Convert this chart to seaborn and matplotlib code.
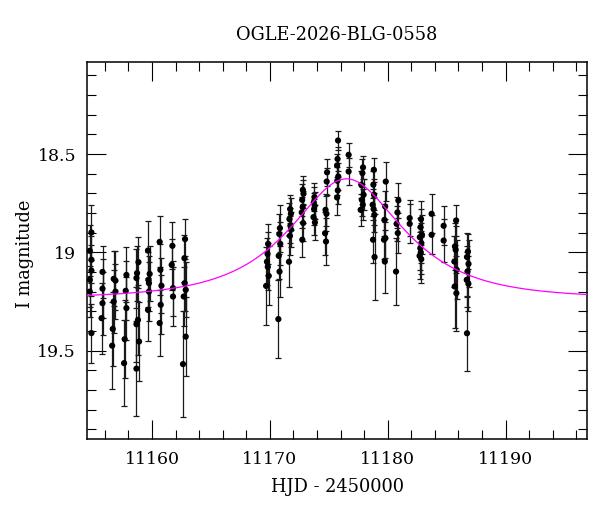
import matplotlib
matplotlib.use("Agg")
import matplotlib.pyplot as plt
import numpy as np
import pandas as pd
import seaborn as sns
from matplotlib.ticker import MultipleLocator, FormatStrFormatter

TITLE = "OGLE-2026-BLG-0558"

# photometry, grouped by night (HJD - 2450000, I mag, error)
hjd = [
    11154.86, 11154.72, 11154.86, 11154.86, 11154.72, 11154.72, 11154.86,
    11155.80, 11155.80, 11155.80, 11155.72,
    11156.75, 11156.90, 11156.90, 11156.75, 11156.67, 11156.62,
    11157.83, 11157.77, 11157.83, 11157.68, 11157.63,
    11158.85, 11158.73, 11158.68, 11158.81, 11158.68, 11158.90, 11158.68,
    11159.66, 11159.80, 11159.74, 11159.74, 11159.66, 11159.70,
    11160.65, 11160.71, 11160.80, 11160.74, 11160.65,
    11161.73, 11161.67, 11161.78, 11161.78,
    11162.80, 11162.75, 11162.77, 11162.86, 11162.69, 11162.86, 11162.63,
    11169.85, 11169.80, 11169.75, 11169.82, 11169.90, 11169.68,
    11170.85, 11170.80, 11170.88, 11170.75, 11170.82, 11170.72,
    11171.72, 11171.78, 11171.66, 11171.74, 11171.80, 11171.70, 11171.62,
    11172.80, 11172.85, 11172.74, 11172.78, 11172.70, 11172.82, 11172.75,
    11173.78, 11173.72, 11173.80, 11173.75, 11173.70, 11173.82,
    11174.85, 11174.82, 11174.72, 11174.80, 11174.68, 11174.76,
    11175.78, 11175.74, 11175.70, 11175.80, 11175.72, 11175.76, 11175.70,
    11176.68, 11176.68,
    11177.90, 11177.85, 11177.75, 11177.95, 11177.80, 11177.88, 11177.70,
    11178.82, 11178.78, 11178.84, 11178.72, 11178.80, 11178.86, 11178.75, 11178.88,
    11179.83, 11179.78, 11179.72, 11179.80, 11179.68, 11179.75,
    11180.90, 11180.82, 11180.75, 11180.85, 11180.70,
    11181.86, 11181.86,
    11182.82, 11182.78, 11182.90, 11182.72, 11182.85, 11182.76, 11182.80, 11182.70, 11182.84,
    11183.72, 11183.72,
    11184.74, 11184.74,
    11185.80, 11185.70, 11185.76, 11185.65, 11185.85, 11185.68, 11185.82,
    11186.80, 11186.72, 11186.85, 11186.76, 11186.70, 11186.84, 11186.72,
]
imag = [
    18.899, 18.992, 19.038, 19.093, 19.140, 19.200, 19.411,
    19.100, 19.185, 19.259, 19.335,
    19.135, 19.144, 19.200, 19.251, 19.390, 19.475,
    19.115, 19.196, 19.284, 19.442, 19.564,
    19.050, 19.106, 19.131, 19.344, 19.366, 19.454, 19.592,
    18.991, 19.110, 19.157, 19.200, 19.293, 19.140,
    18.947, 19.089, 19.170, 19.267, 19.360,
    18.967, 19.064, 19.182, 19.225,
    18.933, 19.030, 19.157, 19.191, 19.225, 19.429, 19.569,
    18.957, 19.008, 19.048, 19.074, 19.120, 19.171,
    18.877, 18.907, 18.957, 19.018, 19.098, 19.340,
    18.780, 18.804, 18.831, 18.865, 18.885, 18.916, 19.048,
    18.682, 18.702, 18.733, 18.770, 18.797, 18.851, 18.936,
    18.719, 18.746, 18.763, 18.780, 18.821, 18.848,
    18.593, 18.640, 18.784, 18.804, 18.903, 18.945,
    18.431, 18.525, 18.558, 18.614, 18.636, 18.685, 18.721,
    18.504, 18.589,
    18.568, 18.597, 18.656, 18.707, 18.733, 18.758, 18.784,
    18.580, 18.656, 18.707, 18.758, 18.780, 18.809, 18.936, 19.024,
    18.640, 18.767, 18.835, 18.928, 18.936, 19.047,
    18.736, 18.797, 18.855, 18.902, 19.098,
    18.826, 18.855,
    18.831, 18.872, 18.911, 18.923, 18.953, 18.979, 19.001, 19.018, 19.035,
    18.804, 18.911,
    18.865, 18.940,
    18.838, 18.970, 18.987, 19.047, 19.089, 19.174, 19.208,
    18.996, 19.024, 19.059, 19.098, 19.140, 19.160, 19.412,
]
ierr = [
    0.14, 0.13, 0.12, 0.13, 0.14, 0.13, 0.15,
    0.13, 0.15, 0.16, 0.18,
    0.14, 0.15, 0.14, 0.16, 0.19, 0.22,
    0.14, 0.15, 0.16, 0.20, 0.22,
    0.13, 0.14, 0.15, 0.18, 0.19, 0.20, 0.24,
    0.15, 0.14, 0.14, 0.15, 0.16, 0.14,
    0.13, 0.13, 0.14, 0.15, 0.17,
    0.12, 0.13, 0.14, 0.15,
    0.10, 0.12, 0.14, 0.14, 0.15, 0.20, 0.27,
    0.10, 0.11, 0.12, 0.12, 0.15, 0.20,
    0.12, 0.10, 0.11, 0.12, 0.13, 0.20,
    0.07, 0.08, 0.08, 0.09, 0.09, 0.10, 0.13,
    0.07, 0.07, 0.08, 0.08, 0.08, 0.09, 0.09,
    0.07, 0.08, 0.07, 0.08, 0.09, 0.09,
    0.07, 0.07, 0.08, 0.09, 0.11, 0.12,
    0.05, 0.06, 0.06, 0.07, 0.07, 0.07, 0.09,
    0.06, 0.07,
    0.06, 0.07, 0.07, 0.08, 0.08, 0.08, 0.08,
    0.06, 0.07, 0.08, 0.08, 0.08, 0.09, 0.12, 0.22,
    0.10, 0.08, 0.08, 0.10, 0.10, 0.16,
    0.09, 0.08, 0.09, 0.10, 0.17,
    0.09, 0.10,
    0.09, 0.09, 0.10, 0.10, 0.10, 0.11, 0.11, 0.12, 0.12,
    0.10, 0.10,
    0.10, 0.11,
    0.08, 0.12, 0.12, 0.13, 0.15, 0.21, 0.19,
    0.09, 0.12, 0.12, 0.13, 0.14, 0.14, 0.19,
]

# point-lens fit
t0, tE, u0, I0 = 11176.5, 7.2, 0.66, 19.235

XLIM = (11154.5, 11196.9)
YLIM = (19.95, 18.03)

df = pd.DataFrame({"hjd": hjd, "mag": imag, "err": ierr})

tt = np.linspace(XLIM[0], XLIM[1], 600)
u = np.sqrt(u0**2 + ((tt - t0) / tE) ** 2)
amp = (u**2 + 2) / (u * np.sqrt(u**2 + 4))
model = pd.DataFrame({"hjd": tt, "mag": I0 - 2.5 * np.log10(amp)})

sns.set_theme(style="ticks")
plt.rcParams["font.family"] = ["DejaVu Serif"]
plt.rcParams["mathtext.fontset"] = "dejavuserif"
plt.rcParams["text.color"] = "black"
plt.rcParams["xtick.labelcolor"] = "black"
plt.rcParams["ytick.labelcolor"] = "black"

fig = plt.figure(figsize=(6, 5.12), dpi=100)
ax = fig.add_axes([0.1453, 0.1426, 0.833, 0.7369])

ax.errorbar(df["hjd"], df["mag"], yerr=df["err"], fmt="none",
            ecolor="#1a1a1a", elinewidth=0.9, capsize=2.5, capthick=0.9, zorder=2)
sns.scatterplot(data=df, x="hjd", y="mag", color="black", s=20,
                edgecolor="none", ax=ax, zorder=3)
sns.lineplot(data=model, x="hjd", y="mag", color="#ff00ff", lw=0.9,
             ax=ax, zorder=4, estimator=None, sort=False)

ax.set_xlim(*XLIM)
ax.set_ylim(*YLIM)
ax.xaxis.set_major_locator(MultipleLocator(10))
ax.xaxis.set_minor_locator(MultipleLocator(2))
ax.yaxis.set_major_locator(MultipleLocator(0.5))
ax.yaxis.set_minor_locator(MultipleLocator(0.1))
ax.yaxis.set_major_formatter(FormatStrFormatter("%g"))
ax.tick_params(which="both", direction="in", top=True, right=True,
               color="black", labelcolor="black", width=0.8, labelsize=12.5)
ax.tick_params(which="major", length=13.5)
ax.tick_params(which="minor", length=6.5)
ax.tick_params(axis="x", which="major", pad=9)
ax.tick_params(axis="y", which="major", pad=8)
for sp in ax.spines.values():
    sp.set_linewidth(1.1)
    sp.set_color("black")

ax.set_xlabel("")
ax.set_ylabel("")
fig.text(0.5617, 0.932, TITLE, ha="center", va="center", fontsize=12.8,
         color="black")
fig.text(0.5617, 0.049, "HJD - 2450000", ha="center", va="center",
         fontsize=12.8, color="black")
fig.text(0.042, 0.504, "I magnitude", ha="center", va="center",
         rotation=90, fontsize=12.8, color="black")

fig.savefig("out.png", dpi=100)
